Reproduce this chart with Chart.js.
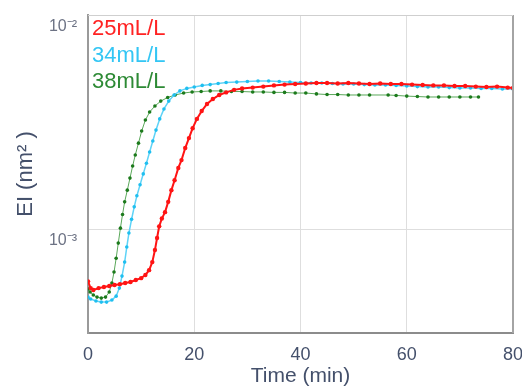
<!DOCTYPE html>
<html>
<head>
<meta charset="utf-8">
<script src="https://cdn.jsdelivr.net/npm/chart.js@4/dist/chart.umd.min.js"></script>
<style>
  html, body { margin: 0; padding: 0; background: #fff; }
  #wrap { width: 522px; height: 389px; }
</style>
</head>
<body>
<div id="wrap"><canvas id="chart"></canvas></div>
<script>
// values
const seriesLabels = ['25mL/L', '34mL/L', '38mL/L'];

const time25 = [0, 0.5, 1, 2, 3, 4, 5, 6, 7, 8, 9, 10, 10.8, 11.5, 12.1, 12.6, 13, 13.4, 13.9, 14.5,
  15.1, 15.7, 16.3, 17, 17.6, 18.3, 19, 19.7, 20.5, 21.4, 22.4, 23.5, 24.7, 26, 27.5, 29, 31, 33, 35, 37,
  39, 41, 43, 45, 47, 49, 51, 53, 55, 57, 59, 61, 63, 65, 67, 69, 71, 73, 75, 77, 79, 80];
const el25 = [5.7e-4, 5.3e-4, 5.19e-4, 5.3e-4, 5.36e-4, 5.42e-4, 5.48e-4, 5.53e-4, 5.6e-4, 5.66e-4, 5.78e-4,
  5.9e-4, 6.1e-4, 6.43e-4, 7.01e-4, 7.98e-4, 9.08e-4, 1.03e-3, 1.12e-3, 1.2e-3,
  1.34e-3, 1.52e-3, 1.69e-3, 1.93e-3, 2.1e-3, 2.39e-3, 2.66e-3, 2.96e-3, 3.27e-3, 3.56e-3, 3.84e-3, 4.05e-3,
  4.23e-3, 4.35e-3, 4.47e-3, 4.54e-3, 4.58e-3, 4.63e-3, 4.69e-3, 4.73e-3,
  4.76e-3, 4.79e-3, 4.81e-3, 4.81e-3, 4.79e-3, 4.81e-3, 4.79e-3, 4.76e-3, 4.79e-3, 4.76e-3, 4.76e-3, 4.73e-3,
  4.71e-3, 4.69e-3, 4.69e-3, 4.66e-3, 4.66e-3, 4.63e-3, 4.61e-3, 4.63e-3, 4.58e-3, 4.56e-3];

const time34 = [0, 0.5, 1.5, 2.5, 3.5, 4.5, 5.3, 5.9, 6.4, 6.9, 7.3, 7.7, 8.2, 8.7, 9.2, 9.8, 10.4, 11, 11.6,
  12.2, 12.8, 13.5, 14.3, 15.2, 16.2, 17.3, 18.6, 20, 21.5, 23, 24.5, 26, 28, 30, 32, 34, 36, 38, 40, 42, 44,
  46, 48, 50, 52, 54, 56, 58, 60, 62, 64, 66, 68, 70, 72, 74, 76, 78, 80];
const el34 = [4.81e-4, 4.71e-4, 4.61e-4, 4.56e-4, 4.56e-4, 4.66e-4, 4.86e-4, 5.3e-4, 6.03e-4, 7.01e-4, 8.24e-4,
  9.58e-4, 1.11e-3, 1.27e-3, 1.43e-3, 1.61e-3, 1.81e-3, 2.03e-3, 2.29e-3,
  2.58e-3, 2.9e-3, 3.27e-3, 3.64e-3, 3.96e-3, 4.23e-3, 4.42e-3, 4.54e-3, 4.61e-3, 4.69e-3, 4.73e-3, 4.79e-3,
  4.84e-3, 4.86e-3, 4.89e-3, 4.92e-3, 4.92e-3, 4.89e-3, 4.86e-3, 4.84e-3, 4.81e-3, 4.81e-3,
  4.79e-3, 4.76e-3, 4.76e-3, 4.73e-3, 4.71e-3, 4.71e-3, 4.69e-3, 4.66e-3, 4.63e-3, 4.61e-3, 4.61e-3, 4.58e-3,
  4.56e-3, 4.56e-3, 4.54e-3, 4.54e-3, 4.51e-3, 4.51e-3];

const time38 = [0, 0.4, 1, 1.7, 2.5, 3.3, 4, 4.5, 4.9, 5.3, 5.7, 6.1, 6.5, 6.9, 7.4, 7.9, 8.4, 8.9, 9.5, 10.1,
  10.8, 11.6, 12.6, 13.7, 15, 16.4, 18, 19.6, 21.3, 23, 25, 27, 29, 31, 33, 35, 37, 39, 41, 43, 45, 47, 49,
  51, 53, 56.5, 58, 60, 62, 64, 66, 68, 70, 72, 73.5];
const el38 = [5.25e-4, 5.08e-4, 4.92e-4, 4.81e-4, 4.76e-4, 4.81e-4, 5.08e-4, 5.6e-4, 6.3e-4, 7.31e-4, 8.6e-4,
  1.01e-3, 1.17e-3, 1.34e-3, 1.52e-3, 1.73e-3, 1.97e-3, 2.22e-3, 2.52e-3, 2.87e-3,
  3.23e-3, 3.52e-3, 3.76e-3, 3.96e-3, 4.12e-3, 4.23e-3, 4.32e-3, 4.37e-3, 4.39e-3, 4.42e-3, 4.42e-3, 4.39e-3,
  4.39e-3, 4.37e-3, 4.37e-3, 4.35e-3, 4.35e-3, 4.32e-3, 4.32e-3, 4.28e-3, 4.25e-3, 4.25e-3, 4.23e-3,
  4.23e-3, 4.23e-3, 4.23e-3, 4.21e-3, 4.18e-3, 4.16e-3, 4.14e-3, 4.14e-3, 4.14e-3, 4.14e-3, 4.14e-3, 4.14e-3];

const xTicks = [0, 20, 40, 60, 80];
const yTicks = [1e-3, 1e-2];
const yTickLabels = ['10\u207B\u00B3', '10\u207B\u00B2'];

const toPoints = (xs, ys) => xs.map((x, i) => ({ x: x, y: ys[i] }));

const axisColor = '#44506b';

// coloured text labels inside the plot, top-left, plus the right/top frame edges
const textLegend = {
  id: 'textLegend',
  afterDraw(chart) {
    const { ctx, chartArea } = chart;
    ctx.save();
    ctx.strokeStyle = '#a4a4a4';
    ctx.lineWidth = 2;
    ctx.beginPath();
    ctx.moveTo(chartArea.right, chartArea.top);
    ctx.lineTo(chartArea.right, chartArea.bottom);
    ctx.stroke();
    ctx.strokeStyle = '#cfcfcf';
    ctx.lineWidth = 1;
    ctx.beginPath();
    ctx.moveTo(chartArea.left, chartArea.top + 0.5);
    ctx.lineTo(chartArea.right, chartArea.top + 0.5);
    ctx.stroke();

    ctx.font = '22px "Liberation Sans", Arial, sans-serif';
    ctx.textAlign = 'left';
    ctx.textBaseline = 'middle';
    chart.data.datasets.forEach((ds, i) => {
      ctx.fillStyle = ds.labelColor;
      ctx.fillText(ds.label, chartArea.left + 4, chartArea.top + 14 + i * 26.5);
    });
    ctx.restore();
  }
};

new Chart(document.getElementById('chart'), {
  type: 'line',
  data: {
    datasets: [
      {
        label: seriesLabels[0],
        data: toPoints(time25, el25),
        borderColor: '#ff1414',
        backgroundColor: '#ff1414',
        pointBackgroundColor: '#ff1414',
        pointBorderWidth: 0,
        pointRadius: 2.2,
        borderWidth: 2,
        labelColor: '#ff2222'
      },
      {
        label: seriesLabels[1],
        data: toPoints(time34, el34),
        borderColor: '#5fd3f7',
        backgroundColor: '#1fbff0',
        pointBackgroundColor: '#1fbff0',
        pointBorderWidth: 0,
        pointRadius: 1.8,
        borderWidth: 1.5,
        labelColor: '#33c6f4'
      },
      {
        label: seriesLabels[2],
        data: toPoints(time38, el38),
        borderColor: '#5aa85a',
        backgroundColor: '#1c7a1c',
        pointBackgroundColor: '#1c7a1c',
        pointBorderWidth: 0,
        pointRadius: 1.8,
        borderWidth: 1,
        labelColor: '#2d8a35'
      }
    ]
  },
  options: {
    responsive: true,
    maintainAspectRatio: false,
    animation: false,
    layout: { padding: { top: 15, right: 9, left: 0, bottom: 0 } },
    plugins: {
      legend: { display: false },
      tooltip: { enabled: false }
    },
    scales: {
      x: {
        type: 'linear',
        min: 0,
        max: 80,
        afterBuildTicks: (scale) => { scale.ticks = xTicks.map(v => ({ value: v })); },
        afterFit: (scale) => { scale.height = 56; scale.paddingRight = 0; scale.paddingLeft = 0; },
        ticks: {
          color: axisColor,
          padding: 11,
          maxRotation: 0,
          font: { family: '"Liberation Sans", Arial, sans-serif', size: 18 }
        },
        grid: { color: '#dedede', lineWidth: 1, drawTicks: false },
        border: { color: '#8c8c8c', width: 2 },
        title: {
          display: true,
          text: 'Time (min)',
          color: axisColor,
          padding: { top: 0, bottom: 0 },
          font: { family: '"Liberation Sans", Arial, sans-serif', size: 21 }
        }
      },
      y: {
        type: 'logarithmic',
        bounds: 'data',
        min: 3.27e-4,
        max: 1e-2,
        afterBuildTicks: (scale) => { scale.ticks = yTicks.map(v => ({ value: v })); },
        afterFit: (scale) => { scale.width = 88; scale.paddingTop = 0; scale.paddingBottom = 0; },
        ticks: {
          color: '#6c7284',
          padding: 11,
          labelOffset: 12,
          font: { family: '"Liberation Sans", Arial, sans-serif', size: 16 },
          callback: (value) => yTickLabels[yTicks.indexOf(value)]
        },
        grid: { color: '#dedede', lineWidth: 1, drawTicks: false },
        border: { color: '#9a9a9a', width: 2 },
        title: {
          display: true,
          text: 'EI (nm\u00B2 )',
          color: axisColor,
          padding: { top: 13, bottom: 0 },
          font: { family: '"Liberation Sans", Arial, sans-serif', size: 22 }
        }
      }
    }
  },
  plugins: [textLegend]
});
</script>
</body>
</html>
